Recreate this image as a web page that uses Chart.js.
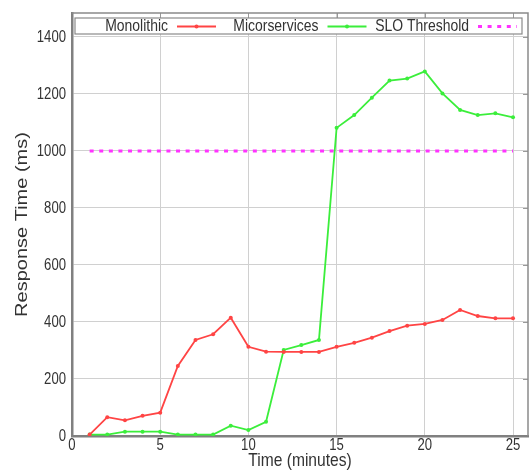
<!DOCTYPE html>
<html>
<head>
<meta charset="utf-8">
<script src="https://cdn.jsdelivr.net/npm/chart.js@4"></script>
<style>
  html, body { margin: 0; padding: 0; background: #fff; }
  #wrap { width: 530px; height: 475px; }
</style>
</head>
<body>
<div id="wrap"><canvas id="graph"></canvas></div>
<script>
// données
const minutes = [1,2,3,4,5,6,7,8,9,10,11,12,13,14,15,16,17,18,19,20,21,22,23,24,25];
const monolithic = [5,66,55,71,82,246,337,357,415,313,296,295,295,295,313,327,345,368,387,393,407,442,421,413,413];
const microservices = [5,5,15,15,15,5,5,5,36,21,50,302,319,337,1081,1126,1187,1247,1254,1279,1202,1144,1126,1132,1118];
const sloX = [1,25];
const sloY = [1000,1000];
const seriesLabels = ["Monolithic","Micorservices","SLO Threshold"];
const xTitle = "Time (minutes)";
const yTitle = "Response Time (ms)";

const fam = "'Liberation Sans', Arial, sans-serif";
const textColor = "#333";
const squeeze = 0.82; // texte étroit comme sur la figure

function points(xs, ys) {
  return xs.map((x, i) => ({x: x, y: ys[i]}));
}

// texte étroit (pas de police condensée installée)
function narrowText(ctx, txt, x, y, size, align, baseline) {
  ctx.save();
  ctx.translate(x, y);
  ctx.scale(squeeze, 1);
  ctx.font = size + "px " + fam;
  ctx.textAlign = align;
  ctx.textBaseline = baseline;
  ctx.fillStyle = textColor;
  ctx.fillText(txt, 0, 0);
  ctx.restore();
}

/* cadre, textes et légende façon gnuplot */
const gnuplotFrame = {
  id: "gnuplotFrame",
  afterDatasetsDraw(chart) {
    const ctx = chart.ctx;
    const a = chart.chartArea;
    const xs = chart.scales.x, ys = chart.scales.y;
    ctx.save();

    // petites graduations en haut et à droite
    ctx.strokeStyle = "#999";
    ctx.lineWidth = 1;
    ctx.beginPath();
    xs.ticks.forEach(t => {
      if (t.value === 0) return;
      const px = Math.round(xs.getPixelForValue(t.value)) + 0.5;
      ctx.moveTo(px, a.top); ctx.lineTo(px, a.top + 5);
    });
    ys.ticks.forEach(t => {
      if (t.value === 0) return;
      const py = Math.round(ys.getPixelForValue(t.value)) + 0.5;
      ctx.moveTo(a.right, py); ctx.lineTo(a.right - 5, py);
    });
    ctx.stroke();

    // bords haut et droite
    ctx.strokeStyle = "#8a8a8a";
    ctx.lineWidth = 1.5;
    ctx.beginPath();
    ctx.moveTo(a.left, a.top); ctx.lineTo(a.right, a.top); ctx.lineTo(a.right, a.bottom);
    ctx.stroke();

    // étiquettes des axes
    xs.ticks.forEach(t => {
      narrowText(ctx, String(t.value), xs.getPixelForValue(t.value), a.bottom + 10, 16, "center", "middle");
    });
    ys.ticks.forEach(t => {
      narrowText(ctx, String(t.value), a.left - 6, ys.getPixelForValue(t.value) + 1, 16, "right", "middle");
    });

    // titres
    narrowText(ctx, xTitle, (a.left + a.right) / 2, 466, 19, "center", "alphabetic");
    ctx.save();
    ctx.translate(22, (a.top + a.bottom) / 2);
    ctx.rotate(-Math.PI / 2);
    ctx.scale(1, squeeze);
    ctx.font = "20px " + fam;
    ctx.textAlign = "center";
    ctx.textBaseline = "middle";
    ctx.fillStyle = textColor;
    ctx.fillText(yTitle, 0, 0);
    ctx.restore();

    // boîte de légende
    const bx = a.left + 3, by = a.top + 5, bw = a.right - a.left - 9, bh = 16;
    ctx.fillStyle = "#fff";
    ctx.fillRect(bx, by, bw, bh);
    ctx.strokeStyle = "#8a8a8a";
    ctx.lineWidth = 1.2;
    ctx.strokeRect(bx, by, bw, bh);

    const cy = by + bh / 2 + 0.5;
    chart.data.datasets.forEach((ds, i) => {
      const textRight = a.left + 96 + i * 150.5;
      narrowText(ctx, seriesLabels[i], textRight, cy, 17, "right", "middle");
      const s0 = textRight + 9, s1 = textRight + 48;
      ctx.strokeStyle = ds.borderColor;
      ctx.lineWidth = ds.borderWidth;
      ctx.setLineDash(ds.borderDash || []);
      ctx.beginPath();
      ctx.moveTo(s0, cy); ctx.lineTo(s1, cy);
      ctx.stroke();
      ctx.setLineDash([]);
      if (ds.pointRadius > 0) {
        ctx.fillStyle = ds.borderColor;
        ctx.beginPath();
        ctx.arc((s0 + s1) / 2, cy, 2, 0, Math.PI * 2);
        ctx.fill();
      }
    });
    ctx.restore();
  }
};

const ctx = document.getElementById("graph").getContext("2d");

new Chart(ctx, {
  type: "line",
  data: {
    datasets: [
      {
        label: seriesLabels[0],
        data: points(minutes, monolithic),
        borderColor: "#ff4444",
        backgroundColor: "#ff4444",
        borderWidth: 1.8,
        pointRadius: 2,
        pointBorderWidth: 0,
        pointHoverRadius: 2,
        tension: 0
      },
      {
        label: seriesLabels[1],
        data: points(minutes, microservices),
        borderColor: "#3bee3b",
        backgroundColor: "#3bee3b",
        borderWidth: 1.8,
        pointRadius: 2,
        pointBorderWidth: 0,
        pointHoverRadius: 2,
        tension: 0
      },
      {
        label: seriesLabels[2],
        data: points(sloX, sloY),
        borderColor: "#ff33ff",
        backgroundColor: "#ff33ff",
        borderWidth: 3,
        borderDash: [4, 5.6],
        pointRadius: 0,
        tension: 0
      }
    ]
  },
  options: {
    responsive: true,
    maintainAspectRatio: false,
    animation: false,
    events: [],
    layout: { padding: { top: 13, right: 2, left: 0, bottom: 0 } },
    plugins: {
      legend: { display: false },
      tooltip: { enabled: false }
    },
    scales: {
      x: {
        type: "linear",
        min: 0,
        max: 25.85,
        afterFit: s => { s.height = 39; },
        ticks: { stepSize: 5, includeBounds: false, display: false },
        grid: { color: "#d0d0d0", lineWidth: 1, drawTicks: false },
        border: { color: "#808080", width: 2.5 }
      },
      y: {
        min: 0,
        max: 1484,
        afterFit: s => { s.width = 72; },
        ticks: { stepSize: 200, includeBounds: false, display: false },
        grid: { color: "#d0d0d0", lineWidth: 1, drawTicks: false },
        border: { color: "#808080", width: 2.5 }
      }
    }
  },
  plugins: [gnuplotFrame]
});
</script>
</body>
</html>
